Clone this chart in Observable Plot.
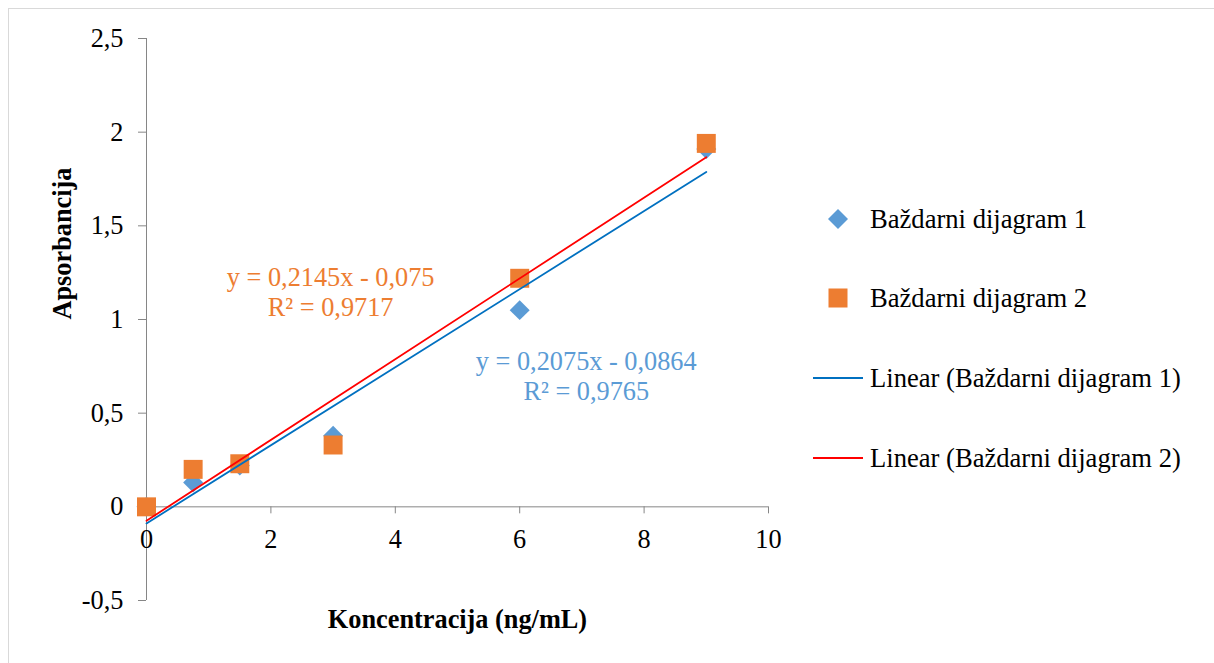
<!DOCTYPE html>
<html>
<head>
<meta charset="utf-8">
<script src="https://cdn.jsdelivr.net/npm/d3@7"></script>
<script src="https://cdn.jsdelivr.net/npm/@observablehq/plot@0.6"></script>
<style>
  html, body { margin: 0; padding: 0; background: #fff; }
  #wrap { position: relative; width: 1214px; height: 663px; overflow: hidden; font-family: "Liberation Serif", "Times New Roman", serif; }
  #border { position: absolute; left: 8px; top: 8px; width: 1400px; height: 900px; border-top: 1px solid #d9d9d9; border-left: 1px solid #d9d9d9; }
  #chart { position: absolute; left: 0; top: 0; }
  .leg { position: absolute; left: 810px; height: 30px; display: flex; align-items: center; font-size: 26.6px; color: #000; white-space: nowrap; }
  .leg svg { width: 56px; height: 30px; margin-right: 4px; }
</style>
</head>
<body>
<div id="wrap">
  <div id="border"></div>
  <div id="chart"></div>
  <div id="legend"></div>
</div>
<script>
// Data
const concentrations = [0, 0.75, 1.5, 3, 6, 9];
const series1Values = [0, 0.13, 0.22, 0.38, 1.05, 1.91];
const series2Values = [0, 0.20, 0.23, 0.33, 1.22, 1.94];
const seriesNames = ["Baždarni dijagram 1", "Baždarni dijagram 2"];
const trendNames = ["Linear (Baždarni dijagram 1)", "Linear (Baždarni dijagram 2)"];
const eq1 = ["y = 0,2075x - 0,0864", "R² = 0,9765"];
const eq2 = ["y = 0,2145x - 0,075", "R² = 0,9717"];
const eq1Pos = [7.07, 0.704];
const eq2Pos = [2.96, 1.152];
const xTicks = [0, 2, 4, 6, 8, 10];
const yTicks = [-0.5, 0, 0.5, 1, 1.5, 2, 2.5];
const xLabel = "Koncentracija (ng/mL)";
const yLabel = "Apsorbancija";

const colors = { s1: "#5b9bd5", s2: "#ed7d31", t1: "#0070c0", t2: "#ff0000", axis: "#868686" };

const s1 = concentrations.map((x, i) => ({ x, y: series1Values[i] }));
const s2 = concentrations.map((x, i) => ({ x, y: series2Values[i] }));
const fmt = d => String(d).replace(".", ",");

const chart = Plot.plot({
  width: 1214,
  height: 663,
  marginLeft: 146,
  marginRight: 446,
  marginTop: 38,
  marginBottom: 63,
  style: { fontFamily: '"Liberation Serif", "Times New Roman", serif', fontSize: "26px", background: "transparent", color: "#000" },
  x: { domain: [0, 10], axis: null },
  y: { domain: [-0.5, 2.5], axis: null },
  marks: [
    Plot.ruleX([0], { y1: -0.5, y2: 2.5, stroke: colors.axis, strokeWidth: 1 }),
    Plot.ruleY([0], { x1: 0, x2: 10, stroke: colors.axis, strokeWidth: 1 }),
    Plot.axisY({ ticks: yTicks, tickFormat: fmt, tickSize: 8, tickPadding: 15, stroke: colors.axis, fill: "#000", label: null, fontSize: 26.3 }),
    Plot.ruleX(xTicks, { x: d => d, y1: 0, y2: 0, insetBottom: -7, stroke: colors.axis }),
    Plot.text(xTicks, { x: d => d, y: 0, text: d => fmt(d), dy: 33, fill: "#000", fontSize: 26.3 }),
    Plot.dot(s1, { x: "x", y: "y", symbol: "diamond2", r: 9, fill: colors.s1, stroke: "none" }),
    Plot.dot(s2, { x: "x", y: "y", symbol: "square", r: 10.7, fill: colors.s2, stroke: "none" }),
    Plot.linearRegressionY(s1, { x: "x", y: "y", stroke: colors.t1, strokeWidth: 1.8, ci: 0 }),
    Plot.linearRegressionY(s2, { x: "x", y: "y", stroke: colors.t2, strokeWidth: 1.8, ci: 0 }),
    Plot.text([eq2.join("\n")], { x: eq2Pos[0], y: eq2Pos[1], fill: colors.s2, fontSize: 26.3, lineHeight: 1.15 }),
    Plot.text([eq1.join("\n")], { x: eq1Pos[0], y: eq1Pos[1], fill: colors.s1, fontSize: 26.3, lineHeight: 1.15 }),
    Plot.text([xLabel], { frameAnchor: "bottom", dy: 27, fontWeight: "bold", fontSize: 26.3, fill: "#000" }),
    Plot.text([yLabel], { frameAnchor: "left", dx: -84, rotate: -90, fontWeight: "bold", fontSize: 26.3, fill: "#000" })
  ]
});
document.getElementById("chart").appendChild(chart);

// Legend (HTML, beside the plot)
const legend = document.getElementById("legend");
const legendItems = [
  { label: seriesNames[0], kind: "diamond", color: colors.s1, cy: 219 },
  { label: seriesNames[1], kind: "square", color: colors.s2, cy: 298 },
  { label: trendNames[0], kind: "line", color: colors.t1, cy: 378 },
  { label: trendNames[1], kind: "line", color: colors.t2, cy: 458 }
];
for (const it of legendItems) {
  const div = document.createElement("div");
  div.className = "leg";
  div.style.top = (it.cy - 15) + "px";
  let sw;
  if (it.kind === "diamond") sw = `<polygon points="28,5 38,15 28,25 18,15" fill="${it.color}"/>`;
  else if (it.kind === "square") sw = `<rect x="18.5" y="5.5" width="19" height="19" fill="${it.color}"/>`;
  else sw = `<line x1="3" x2="53" y1="15" y2="15" stroke="${it.color}" stroke-width="1.8"/>`;
  div.innerHTML = `<svg viewBox="0 0 56 30">${sw}</svg><span>${it.label}</span>`;
  legend.appendChild(div);
}
</script>
</body>
</html>
